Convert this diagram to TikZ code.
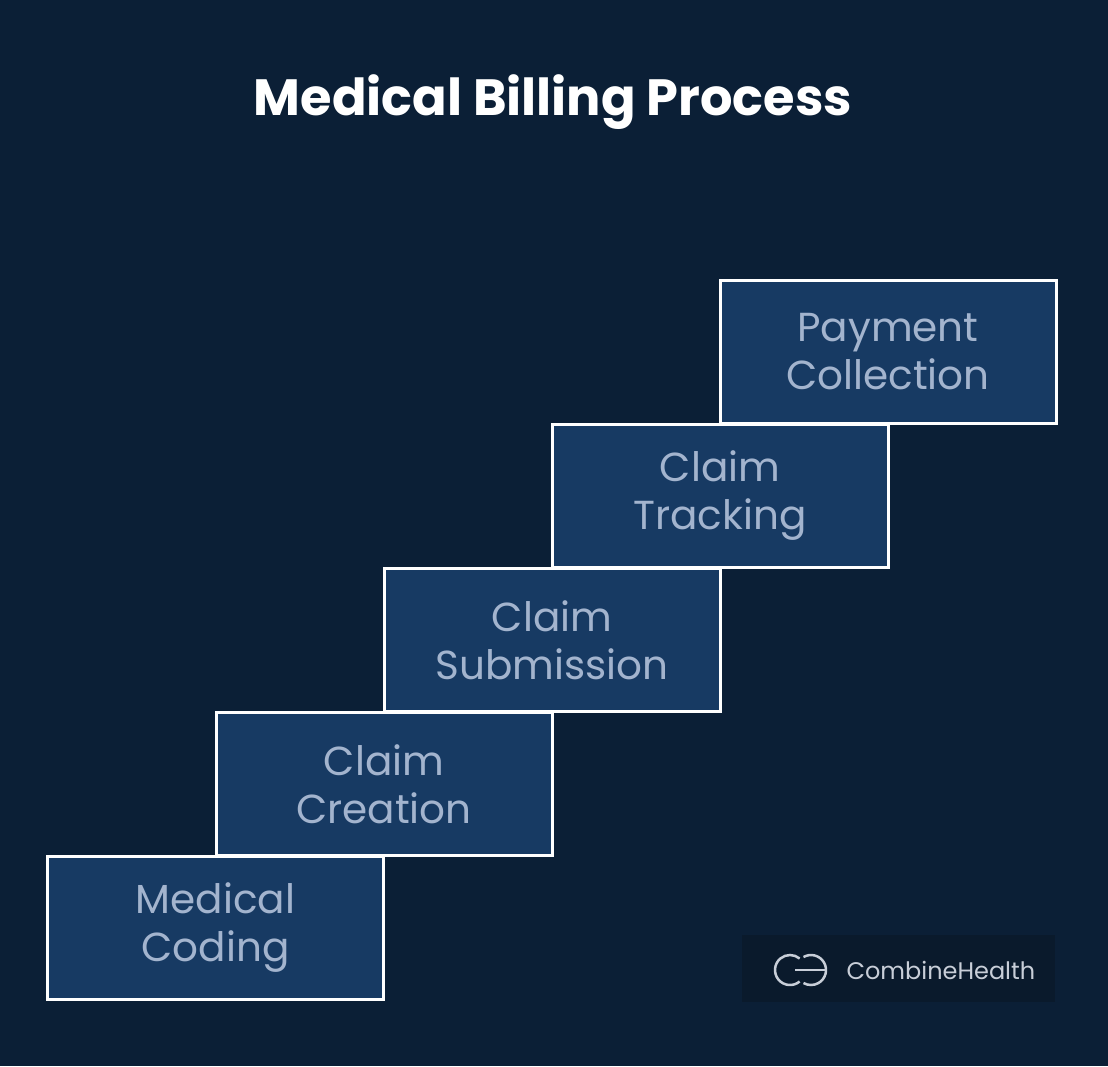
\documentclass[tikz,border=0pt]{standalone}
\usepackage{fontspec}
\setmainfont{Poppins}
\definecolor{bg}{HTML}{0B1F36}
\definecolor{boxfill}{HTML}{173A63}
\definecolor{boxtext}{HTML}{A3B4CE}
\definecolor{logobg}{HTML}{0A1A2C}
\definecolor{logofg}{HTML}{C8CED8}
\begin{document}
\begin{tikzpicture}[x=1pt,y=-1pt,
  stepbox/.style={draw=white,line width=3pt,fill=boxfill,minimum width=336pt,minimum height=143pt,
    text=boxtext,align=center,font=\fontsize{40.5}{48}\selectfont,inner sep=0pt}]
\fill[bg] (0,0) rectangle (1108,1066);
\useasboundingbox (0,0) rectangle (1108,1066);
\node[text=white,font=\bfseries\fontsize{51}{58}\selectfont] (title) at (553,102) {Medical Billing Process};
\node[stepbox] (s5) at (888,352) {Payment\\Collection};
\node[stepbox] (s4) at (720,496) {Claim\\Tracking};
\node[stepbox] (s3) at (552,640) {Claim\\Submission};
\node[stepbox] (s2) at (384,784) {Claim\\Creation};
\node[stepbox] (s1) at (215.5,928) {Medical\\Coding};
\fill[logobg] (742,935) rectangle (1055,1002);
\draw[logofg,line width=2.5pt] (790,970) ++(50:15) arc[start angle=50,end angle=310,radius=15];
\draw[logofg,line width=2.5pt] (811,970) ++(-120:15) arc[start angle=-120,end angle=120,radius=15];
\draw[logofg,line width=2.5pt] (795,970) -- (826,970);
\node[text=logofg,font=\fontsize{24}{28}\selectfont,anchor=west] (logo) at (843,970) {CombineHealth};
\end{tikzpicture}
\end{document}
